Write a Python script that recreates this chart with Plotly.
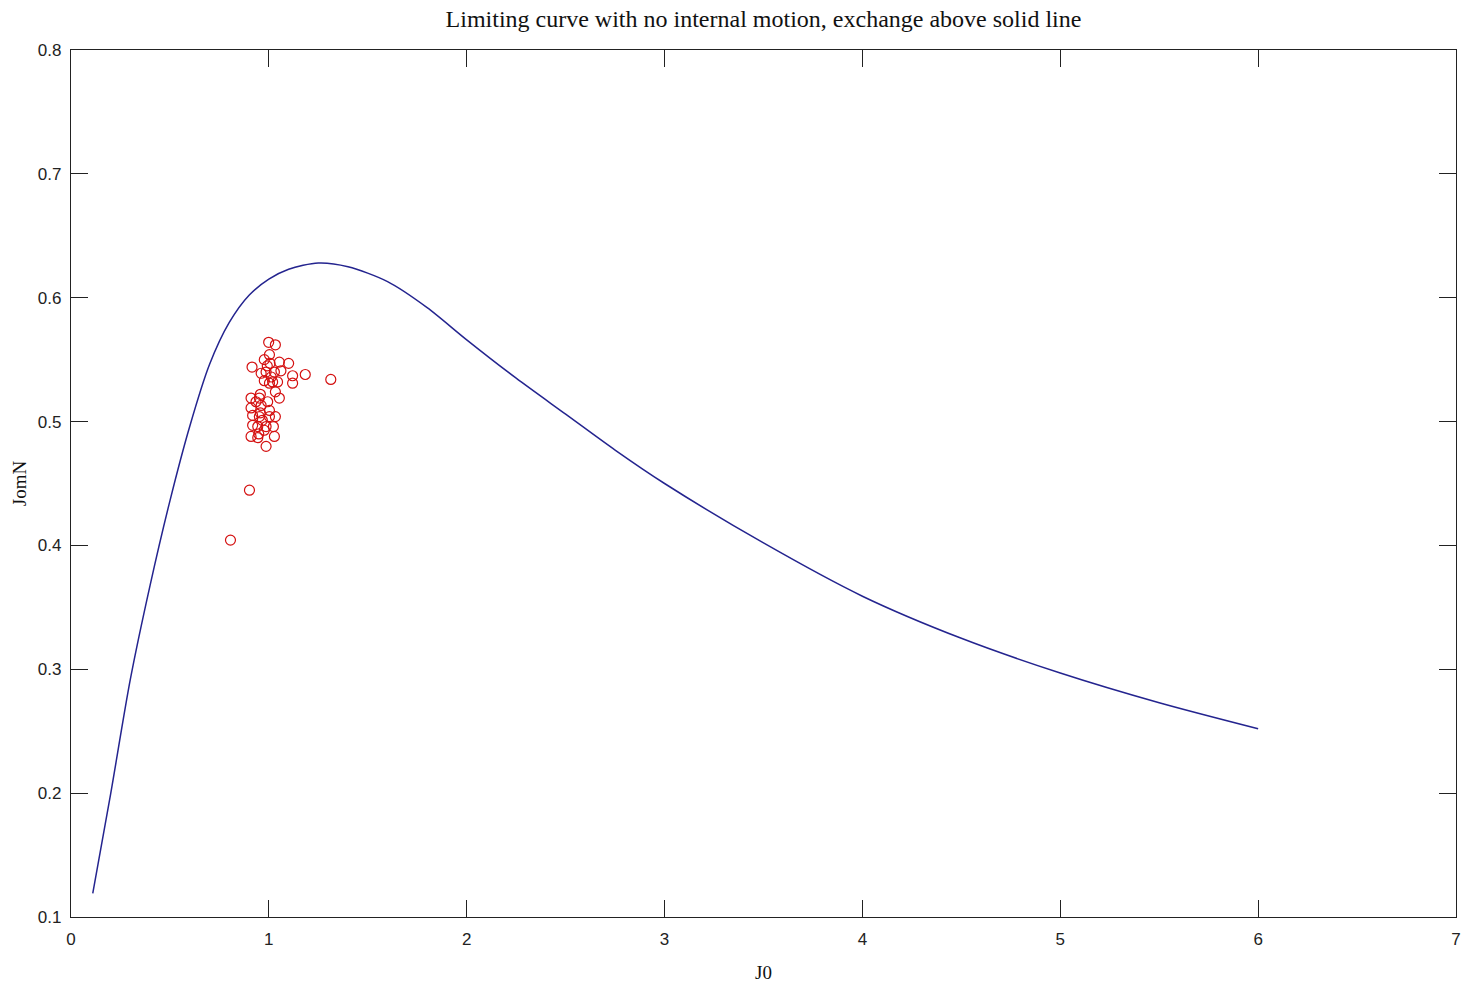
import plotly.graph_objects as go

# Limiting curve
curve_j0 = [0.11, 0.2, 0.3, 0.4, 0.5, 0.6, 0.7, 0.8, 0.9, 1.0, 1.1, 1.25, 1.4, 1.6,
            1.8, 2.0, 2.25, 2.5, 2.75, 3.0, 3.5, 4.0, 4.5, 5.0, 5.5, 6.0]
curve_jomn = [0.119, 0.199, 0.292, 0.368, 0.436, 0.496, 0.546, 0.580, 0.602, 0.615,
              0.623, 0.628, 0.625, 0.613, 0.592, 0.566, 0.535, 0.506, 0.477, 0.450,
              0.402, 0.359, 0.325, 0.297, 0.273, 0.252]

obs_j0 = [0.999, 1.033, 1.003, 1.006, 0.915, 1.053, 1.100, 0.986, 1.028, 1.061,
          0.961, 1.120, 1.120, 1.184, 1.313, 0.977, 1.019, 1.044, 1.003, 1.033,
          0.952, 0.910, 0.935, 0.994, 1.053, 0.961, 1.003, 0.910, 0.918, 0.952,
          1.003, 1.033, 0.918, 0.944, 0.986, 1.023, 0.977, 0.949, 0.910, 0.944,
          1.028, 0.986, 0.902, 0.806, 0.977, 0.992, 1.012, 0.957, 0.967, 0.957]
obs_jomn = [0.564, 0.562, 0.554, 0.547, 0.544, 0.548, 0.547, 0.540, 0.540, 0.541,
            0.539, 0.537, 0.531, 0.538, 0.534, 0.533, 0.532, 0.532, 0.531, 0.524,
            0.519, 0.519, 0.516, 0.516, 0.519, 0.513, 0.509, 0.511, 0.505, 0.504,
            0.504, 0.504, 0.497, 0.496, 0.496, 0.496, 0.493, 0.490, 0.488, 0.487,
            0.488, 0.480, 0.4446, 0.4043, 0.550, 0.545, 0.536, 0.522, 0.501, 0.507]

x_ticks = [0, 1, 2, 3, 4, 5, 6, 7]
y_ticks = [0.1, 0.2, 0.3, 0.4, 0.5, 0.6, 0.7, 0.8]

fig = go.Figure()
fig.add_trace(go.Scatter(x=curve_j0, y=curve_jomn, mode="lines",
                         line=dict(color="#24248f", width=1.5, shape="spline", smoothing=0.8),
                         showlegend=False))
fig.add_trace(go.Scatter(x=obs_j0, y=obs_jomn, mode="markers",
                         marker=dict(symbol="circle-open", size=10,
                                     color="#d41010", line=dict(width=1.2)),
                         showlegend=False))

tick_font = dict(family="Liberation Sans Narrow, Liberation Sans, Arial", size=17, color="#222")
axis_common = dict(showgrid=False, zeroline=False, showline=True, linecolor="#222",
                   linewidth=1.3, mirror="allticks", ticks="inside", ticklen=17,
                   tickcolor="#222", tickwidth=1.3, tickfont=tick_font,
                   ticklabeloverflow="allow", automargin=False)

fig.update_layout(
    width=1464, height=986,
    margin=dict(l=71, r=8, t=50, b=69, autoexpand=False),
    paper_bgcolor="white", plot_bgcolor="white",
    title=dict(text="Limiting curve with no internal motion, exchange above solid line",
               x=0.5, xref="paper", y=0.981, yanchor="middle",
               font=dict(family="Liberation Serif, DejaVu Serif, serif", size=24, color="#111")),
    xaxis=dict(range=[0, 7.0001], tickvals=x_ticks, ticktext=[str(v) for v in x_ticks],
               ticklabelstandoff=6,
               title=dict(text="J0", standoff=18,
                          font=dict(family="Liberation Serif, serif", size=19, color="#111")),
               **axis_common),
    yaxis=dict(range=[0.1, 0.8], tickvals=y_ticks, ticktext=[f"{v:.1f}" for v in y_ticks],
               ticklabelstandoff=5,
               title=dict(text="JomN", standoff=6,
                          font=dict(family="Liberation Serif, serif", size=19, color="#111")),
               **axis_common),
)

fig.write_html("out.html")
